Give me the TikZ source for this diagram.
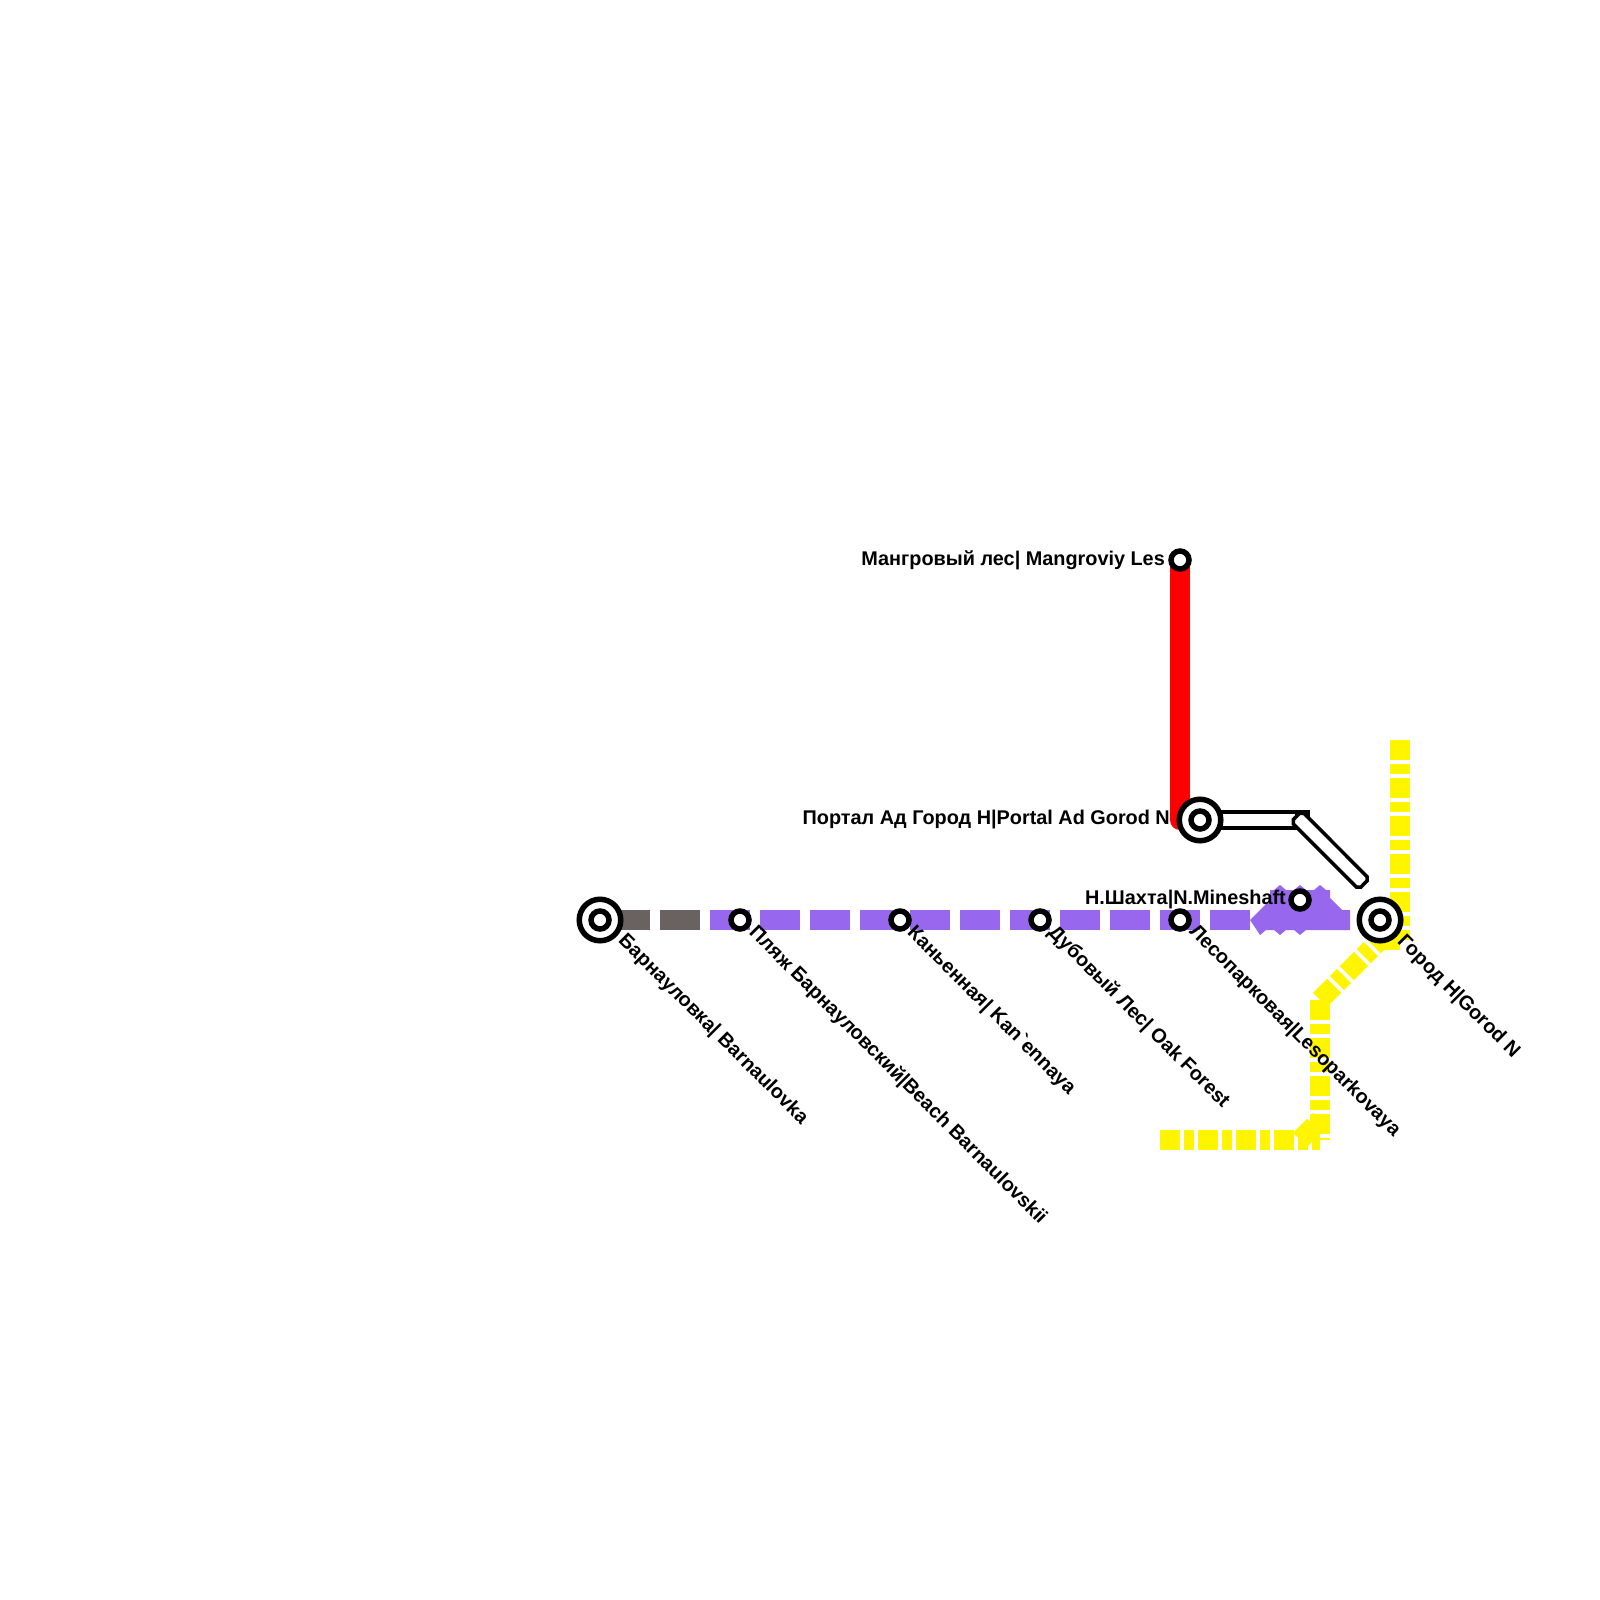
\documentclass[tikz,border=0pt]{standalone}
\usepackage{fontspec}
\newfontfamily\labelfont{Liberation Sans}[Scale=1.0]
\definecolor{linepurple}{RGB}{151,104,238}
\definecolor{linegray}{RGB}{106,97,97}
\definecolor{lineyellow}{RGB}{255,245,0}
\definecolor{linered}{RGB}{255,0,0}

\begin{document}
\begin{tikzpicture}[x=1pt, y=-1pt]
% --- Global Styles ---
\tikzstyle{railline} = [line width=20pt, line join=round]
\tikzstyle{purpledash} = [railline, linepurple, dash pattern=on 40pt off 10pt]
\tikzstyle{yellowdash} = [railline, lineyellow, dash pattern=on 20pt off 4pt on 10pt off 4pt]
\tikzstyle{stop} = [circle, draw=black, fill=white, line width=5.5pt, minimum size=18pt, inner sep=0pt]
\tikzstyle{interchange} = [circle, draw=black, fill=white, line width=5.5pt, minimum size=41.5pt, inner sep=0pt]
\tikzstyle{stoplabel} = [font=\labelfont\bfseries\fontsize{19.85pt}{24pt}\selectfont, inner sep=0pt]
\tikzstyle{downlabel} = [stoplabel, rotate=-45, anchor=west]
\tikzstyle{leftlabel} = [stoplabel, anchor=east]

\useasboundingbox (0,0) rectangle (1600,1600);

% --- Row Coordinates ---
\def\ym{920}  % Main line Y-coordinate
\def\yb{1140} % Bottom yellow Y-coordinate

% ==========================================
% Stations
% ==========================================
\coordinate (barnaulovka) at (600,\ym);
\coordinate (plyazh) at (740,\ym);
\coordinate (kanennaya) at (900,\ym);
\coordinate (dubovyi) at (1040,\ym);
\coordinate (lesopark) at (1180,\ym);
\coordinate (shakhta) at (1300,900);
\coordinate (gorod) at (1380,\ym);
\coordinate (portal) at (1200,820);
\coordinate (mangrove) at (1180,560);

% ==========================================
% Yellow line
% ==========================================
\coordinate (yellowtop) at (1400,740);
\coordinate (yellowknee) at (1400,940);
\coordinate (yellowjog) at (1380,940);
\coordinate (yellowbend) at (1320,1000);
\coordinate (yellowcorner) at (1320,\yb);
\coordinate (yellowend) at (1160,\yb);
\coordinate (yellowcut) at (1300,\yb);
\coordinate (yellowcuttop) at (1320,1120);

\draw[yellowdash] (yellowtop) -- (yellowknee);
\draw[yellowdash] (yellowknee) -- (yellowjog);
\draw[yellowdash] (yellowbend) -- (yellowjog);
\draw[yellowdash] (yellowbend) -- (yellowcorner);
\draw[yellowdash] (yellowend) -- (yellowcorner);
\draw[yellowdash] (yellowcut) -- (yellowcuttop);

% ==========================================
% Red line
% ==========================================
\draw[railline, linered] (mangrove) -- (1180,820) -- (portal);

% ==========================================
% Main line: grey stub, then purple
% ==========================================
\coordinate (greystart) at (610,\ym);
\coordinate (greyend) at (700,\ym);
\coordinate (purplestart) at (710,\ym);
\coordinate (purpleend) at (1350,\ym);

\draw[railline, linegray, dash pattern=on 40pt off 10pt] (greystart) -- (greyend);
\draw[purpledash] (purplestart) -- (purpleend);

% Purple block round Mineshaft
\fill[linepurple] (1250,920) -- (1270,900) -- (1270,890) -- (1274,890) -- (1280,885) -- (1286,890)
  -- (1294,890) -- (1300,885) -- (1306,890) -- (1314,890) -- (1320,885) -- (1326,890) -- (1330,890)
  -- (1330,898) -- (1342,910) -- (1350,910) -- (1350,930) -- (1306,930) -- (1300,935) -- (1294,930)
  -- (1286,930) -- (1280,935) -- (1274,930) -- (1266,930) -- (1260,935) -- cycle;

% ==========================================
% Transfer tube
% ==========================================
\coordinate (tubeend) at (1310,820);
\coordinate (tubeknee) at (1295,820);

\draw[line width=20pt] (portal) -- (tubeend);
\draw[line width=12pt, white] (portal) -- (tubeknee);
\draw[line width=3.5pt, fill=white] (1299.6,813.3) -- (1303.9,813.3) -- (1367,876.6) -- (1367,880.8)
  -- (1360.8,887.2) -- (1356.6,887.2) -- (1293.3,823.9) -- (1293.3,819.6) -- cycle;

% ==========================================
% Station marks
% ==========================================
\foreach \n in {barnaulovka, portal, gorod}
  \node[interchange] (\n ring) at (\n) {};
\foreach \n in {barnaulovka, plyazh, kanennaya, dubovyi, lesopark, shakhta, gorod, portal, mangrove}
  \node[stop] (\n dot) at (\n) {};

% ==========================================
% Labels
% ==========================================
\node[downlabel] (barnaulovkatext) at ([shift={(21,18)}]barnaulovka) {Барнауловка| Barnaulovka};
\node[downlabel] (plyazhtext) at ([shift={(12,10)}]plyazh) {Пляж Барнауловский|Beach Barnaulovskii};
\node[downlabel] (kanennayatext) at ([shift={(10,10)}]kanennaya) {Каньенная| Kan`ennaya};
\node[downlabel] (dubovyitext) at ([shift={(11,10)}]dubovyi) {Дубовый Лес| Oak Forest};
\node[downlabel] (lesoparktext) at ([shift={(12,9)}]lesopark) {Лесопарковая|Lesoparkovaya};
\node[downlabel] (gorodtext) at ([shift={(20,19)}]gorod) {Город Н|Gorod N};
\node[leftlabel] (mangrovetext) at ([shift={(-15,0)}]mangrove) {Мангровый лес| Mangroviy Les};
\node[leftlabel] (portaltext) at ([shift={(-30,0)}]portal) {Портал Ад Город Н|Portal Ad Gorod N};
\node[leftlabel] (shakhtatext) at ([shift={(-14,0)}]shakhta) {Н.Шахта|N.Mineshaft};

\end{tikzpicture}
\end{document}
